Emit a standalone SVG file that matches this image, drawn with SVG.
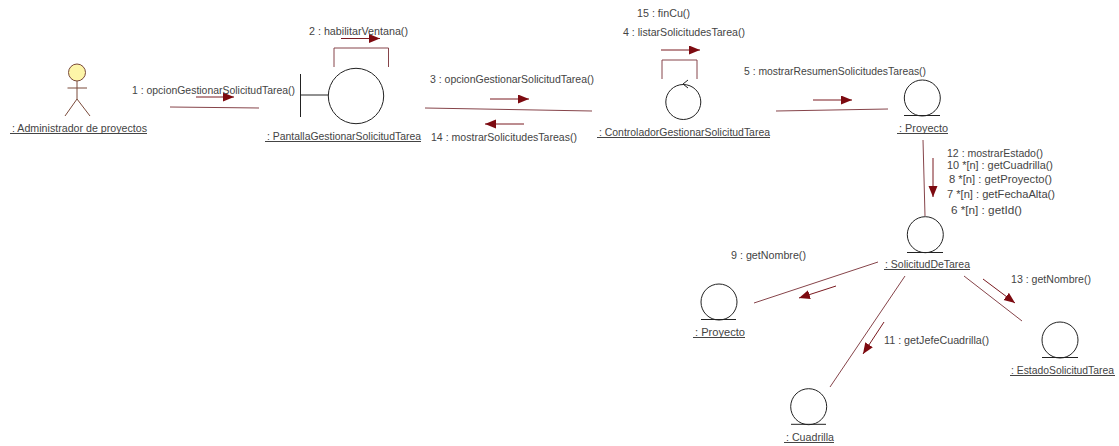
<svg xmlns="http://www.w3.org/2000/svg" width="1119" height="446" viewBox="0 0 1119 446">
<style>
text{font-family:"Liberation Sans",Arial,sans-serif;font-size:11.5px;fill:#444;text-anchor:start}
.s{font-size:11px}
.o{fill:none;stroke:#222;stroke-width:1}
.u{stroke:#444;stroke-width:1;fill:none}
.c{fill:none;stroke:#86444a;stroke-width:1}
.a{fill:none;stroke:#7a1a20;stroke-width:1;marker-end:url(#h)}
</style>
<defs>
<marker id="h" markerUnits="userSpaceOnUse" markerWidth="12" markerHeight="10" refX="11" refY="4.500" orient="auto"><path d="M0 0L11 4.500L0 9Z" fill="#7d0a10"/></marker>
</defs>
<rect width="1119" height="446" fill="#fff"/>
<g id="connectors">
<path class="c" d="M170 107L259 108"/>
<path class="a" d="M196 97L234 97"/>
<text x="132" y="94" textLength="163" lengthAdjust="spacingAndGlyphs">1 : opcionGestionarSolicitudTarea()</text>
<path class="c" d="M334 67V48H388.500V67"/>
<path class="a" d="M341 38.500L380 38.500"/>
<text x="309" y="35" textLength="99" lengthAdjust="spacingAndGlyphs">2 : habilitarVentana()</text>
<path class="c" d="M425 108L592 111"/>
<path class="a" d="M490 99L529 99"/>
<text x="430" y="83" textLength="164" lengthAdjust="spacingAndGlyphs">3 : opcionGestionarSolicitudTarea()</text>
<path class="a" d="M524 124L485 124"/>
<text x="431" y="141" textLength="146" lengthAdjust="spacingAndGlyphs">14 : mostrarSolicitudesTareas()</text>
<path class="c" d="M662 79V60H697V79"/>
<path class="a" d="M661 50L700 50"/>
<text x="637" y="17" textLength="53" lengthAdjust="spacingAndGlyphs">15 : finCu()</text>
<text x="623" y="36" textLength="122" lengthAdjust="spacingAndGlyphs">4 : listarSolicitudesTarea()</text>
<path class="c" d="M776 111L888 109"/>
<path class="a" d="M813 100L852 100"/>
<text x="744" y="75" textLength="182" lengthAdjust="spacingAndGlyphs">5 : mostrarResumenSolicitudesTareas()</text>
<path class="c" d="M923 140L925 216"/>
<path class="a" d="M933 158L933 197"/>
<text x="947" y="157" textLength="96" lengthAdjust="spacingAndGlyphs">12 : mostrarEstado()</text>
<text x="947" y="169" textLength="106" lengthAdjust="spacingAndGlyphs">10 *[n] : getCuadrilla()</text>
<text x="949" y="183" textLength="103" lengthAdjust="spacingAndGlyphs">8 *[n] : getProyecto()</text>
<text x="947" y="198" textLength="108" lengthAdjust="spacingAndGlyphs">7 *[n] : getFechaAlta()</text>
<text x="951" y="214" textLength="71" lengthAdjust="spacingAndGlyphs">6 *[n] : getId()</text>
<path class="c" d="M878 262L754 303"/>
<path class="a" d="M836 286L799 298"/>
<text x="731" y="259" textLength="75" lengthAdjust="spacingAndGlyphs">9 : getNombre()</text>
<path class="c" d="M905 276L830 387"/>
<path class="a" d="M884 322L863 354"/>
<text x="884" y="344" textLength="105" lengthAdjust="spacingAndGlyphs">11 : getJefeCuadrilla()</text>
<path class="c" d="M964 276L1022 321"/>
<path class="a" d="M983 279L1015 303"/>
<text x="1011" y="283" textLength="80" lengthAdjust="spacingAndGlyphs">13 : getNombre()</text>
</g>
<g id="actor">
<circle cx="77" cy="72.500" r="8.500" fill="#fdf5a8" stroke="#7a4a3a" stroke-width="1"/>
<path d="M67.500 88H87M77 81V99L65 116M77 99L90 116" fill="none" stroke="#7a4a3a" stroke-width="1"/>
<text x="12" y="132" textLength="135" lengthAdjust="spacingAndGlyphs">: Administrador de proyectos</text>
<path class="u" d="M10 133.500H147"/>
</g>
<g id="pantalla">
<circle class="o" cx="356" cy="96" r="27.700"/>
<path class="o" d="M300.500 74V117M300.500 95H328"/>
<text x="267" y="140" textLength="154" lengthAdjust="spacingAndGlyphs">: PantallaGestionarSolicitudTarea</text>
<path class="u" d="M265 141.500H421"/>
</g>
<g id="controlador">
<circle class="o" cx="683.300" cy="102" r="17.500"/>
<path class="o" d="M688 80L683 84L688 88"/>
<text x="599" y="136" textLength="171" lengthAdjust="spacingAndGlyphs">: ControladorGestionarSolicitudTarea</text>
<path class="u" d="M597 137.500H770"/>
</g>
<g id="proyecto1">
<circle class="o" cx="922.300" cy="98" r="18"/>
<path class="o" d="M904 115.500H940"/>
<text x="899" y="132" textLength="49" lengthAdjust="spacingAndGlyphs">: Proyecto</text>
<path class="u" d="M897 133.500H948"/>
</g>
<g id="solicitud">
<circle class="o" cx="925.300" cy="234.700" r="18"/>
<path class="o" d="M907 252.500H943"/>
<text x="885" y="268" textLength="85" lengthAdjust="spacingAndGlyphs">: SolicitudDeTarea</text>
<path class="u" d="M884 269.500H970"/>
</g>
<g id="proyecto2">
<circle class="o" cx="719" cy="302" r="18"/>
<path class="o" d="M701 319.500H736"/>
<text x="695" y="336" textLength="50" lengthAdjust="spacingAndGlyphs">: Proyecto</text>
<path class="u" d="M693 337.500H745"/>
</g>
<g id="cuadrilla">
<circle class="o" cx="808.700" cy="406.700" r="18"/>
<path class="o" d="M791 424.300H826"/>
<text x="786" y="441" textLength="48" lengthAdjust="spacingAndGlyphs">: Cuadrilla</text>
<path class="u" d="M784 442.500H834"/>
</g>
<g id="estado">
<circle class="o" cx="1060" cy="340" r="18"/>
<path class="o" d="M1042 357.500H1078"/>
<text class="s" x="1011" y="374" textLength="103" lengthAdjust="spacingAndGlyphs">: EstadoSolicitudTarea</text>
<path class="u" d="M1010 375.500H1115"/>
</g>
</svg>
